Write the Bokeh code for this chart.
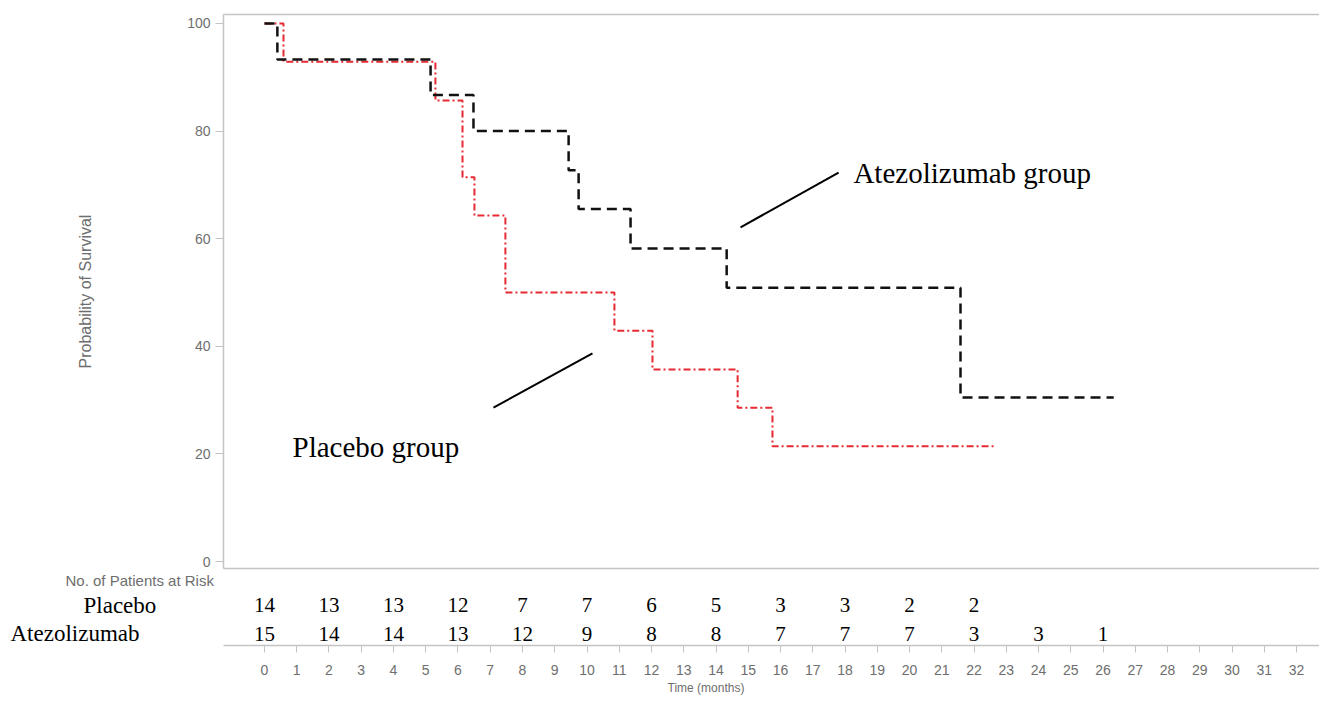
from bokeh.plotting import figure
from bokeh.layouts import column, row
from bokeh.models import LinearAxis, FixedTicker, Range1d, Label, Title
from bokeh.embed import file_html
from bokeh.resources import INLINE
from bokeh.core.properties import value

# ---- data ----
atezo_time = [0, 0.40, 5.15, 6.48, 9.43, 9.74, 11.35, 14.33, 21.58, 26.33]
atezo_surv = [100, 93.3, 86.7, 80.0, 72.7, 65.5, 58.2, 50.9, 30.5, 30.5]
placebo_time = [0, 0.59, 5.30, 6.14, 6.51, 7.47, 10.85, 12.03, 14.67, 15.75, 22.70]
placebo_surv = [100, 92.9, 85.7, 71.4, 64.3, 50.0, 42.9, 35.7, 28.6, 21.4, 21.4]

risk_time_placebo = [0, 2, 4, 6, 8, 10, 12, 14, 16, 18, 20, 22]
risk_placebo = [14, 13, 13, 12, 7, 7, 6, 5, 3, 3, 2, 2]
risk_time_atezo = [0, 2, 4, 6, 8, 10, 12, 14, 16, 18, 20, 22, 24, 26]
risk_atezo = [15, 14, 14, 13, 12, 9, 8, 8, 7, 7, 7, 3, 3, 1]
row_names = ["Placebo", "Atezolizumab"]

x_ticks = list(range(0, 33))
y_ticks = [0, 20, 40, 60, 80, 100]

SANS = "Liberation Sans"
SERIF = "Liberation Serif"
GREY_TXT = "#6e6e6e"
GREY_LINE = "#c4c4c4"

LEFT = 223          # width of the left margin (frame starts here)
W = 1319
x_range = Range1d(-1.27, 32.71)

# ---- survival panel ----
p = figure(width=W, height=573, x_range=x_range, y_range=Range1d(-1.3, 101.67),
           output_backend="svg", toolbar_location=None,
           min_border_left=LEFT, min_border_right=0, min_border_top=14, min_border_bottom=5,
           x_axis_location=None, y_axis_location="left")
p.outline_line_color = None
p.xgrid.visible = False
p.ygrid.visible = False
for loc in ("above", "below"):
    ax = LinearAxis(ticker=FixedTicker(ticks=[]), axis_line_color=GREY_LINE, axis_line_width=1.5,
                    major_tick_out=0, major_tick_in=0, minor_tick_out=0, minor_tick_in=0,
                    major_label_standoff=0)
    p.add_layout(ax, loc)

ya = p.yaxis[0]
ya.ticker = FixedTicker(ticks=y_ticks)
ya.axis_line_color = GREY_LINE
ya.axis_line_width = 1.5
ya.major_tick_line_color = GREY_LINE
ya.major_tick_out = 8
ya.major_tick_in = 0
ya.minor_tick_out = 0
ya.minor_tick_in = 0
ya.major_label_standoff = 5
ya.major_label_text_font = SANS
ya.major_label_text_font_size = "14px"
ya.major_label_text_color = GREY_TXT
ya.axis_label = "Probability of Survival"
ya.axis_label_text_font = SANS
ya.axis_label_text_font_size = "16px"
ya.axis_label_text_font_style = "normal"
ya.axis_label_text_color = GREY_TXT
ya.axis_label_standoff = 90

p.step(placebo_time, placebo_surv, mode="after", line_color="#e52a31", line_width=2,
       line_dash="7 3 2 3")
p.step(atezo_time, atezo_surv, mode="after", line_color="#111111", line_width=2.5,
       line_dash="10 6")

# pointer lines and group labels
p.line([14.76, 17.80], [62.1, 72.3], line_color="black", line_width=2)
p.line([7.10, 10.17], [28.6, 38.7], line_color="black", line_width=2)
p.add_layout(Label(x=18.26, y=72.3, text="Atezolizumab group", text_font=SERIF,
                   text_font_size="29px", text_color="black", text_baseline="alphabetic"))
p.add_layout(Label(x=0.87, y=21.2, text="Placebo group", text_font=SERIF,
                   text_font_size="29px", text_color="black", text_baseline="alphabetic"))

# ---- risk table panel ----
ROW_PLACEBO = 40.5
ROW_ATEZO = 12
ROW_HEADER = 65
H2 = 132
BOTTOM = 60
Y_TOP = 72

# left part: row names and header
lab = figure(width=LEFT, height=H2, x_range=Range1d(0, LEFT), y_range=Range1d(0, Y_TOP),
             output_backend="svg", toolbar_location=None,
             min_border_left=0, min_border_right=0, min_border_top=0, min_border_bottom=BOTTOM,
             x_axis_location=None, y_axis_location=None)
lab.outline_line_color = None
lab.xgrid.visible = False
lab.ygrid.visible = False
lab.text(x=[65], y=[ROW_HEADER], text=["No. of Patients at Risk"], text_font=value(SANS),
         text_font_size="15px", text_color=GREY_TXT, text_align="left", text_baseline="middle")
lab.text(x=[83, 10], y=[ROW_PLACEBO, ROW_ATEZO], text=row_names, text_font=value(SERIF),
         text_font_size="23px", text_color="black", text_align="left", text_baseline="middle")

q = figure(width=W - LEFT, height=H2, x_range=x_range, y_range=Range1d(0, Y_TOP),
           output_backend="svg", toolbar_location=None, y_axis_location=None,
           min_border_left=0, min_border_right=0, min_border_top=0, min_border_bottom=BOTTOM)
q.outline_line_color = None
q.xgrid.visible = False
q.ygrid.visible = False

qx = q.xaxis[0]
qx.ticker = FixedTicker(ticks=x_ticks)
qx.axis_line_color = GREY_LINE
qx.axis_line_width = 1.5
qx.major_tick_line_color = GREY_LINE
qx.major_tick_out = 7
qx.major_tick_in = 0
qx.minor_tick_out = 0
qx.minor_tick_in = 0
qx.major_label_standoff = 12
qx.major_label_text_font = SANS
qx.major_label_text_font_size = "14px"
qx.major_label_text_color = GREY_TXT

q.add_layout(Title(text="Time (months)", align="left", offset=444, text_font=SANS,
                   text_font_size="12px", text_font_style="normal", text_color=GREY_TXT,
                   standoff=2), "below")

q.text(x=risk_time_placebo, y=[ROW_PLACEBO] * len(risk_placebo), text=[str(v) for v in risk_placebo],
       text_font=value(SERIF), text_font_size="21px", text_align="center", text_baseline="middle",
       text_color="black")
q.text(x=risk_time_atezo, y=[ROW_ATEZO] * len(risk_atezo), text=[str(v) for v in risk_atezo],
       text_font=value(SERIF), text_font_size="21px", text_align="center", text_baseline="middle",
       text_color="black")

layout = column(p, row(lab, q, spacing=0), spacing=0)
open("out.html", "w").write(file_html(layout, INLINE))
